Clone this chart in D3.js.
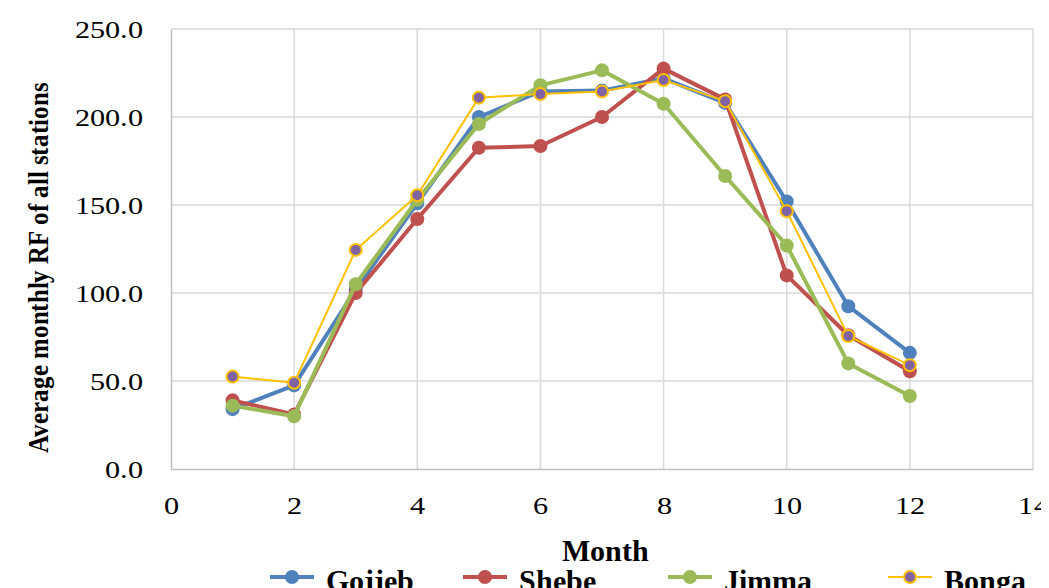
<!DOCTYPE html>
<html>
<head>
<script src="https://d3js.org/d3.v7.min.js"></script>
<style>
@font-face { font-family: "RefSerif"; src: local("Liberation Serif"), local("LiberationSerif"), local("Liberation Serif Regular"), local("LiberationSerif-Regular"); font-weight: normal; }
@font-face { font-family: "RefSerif"; src: local("Liberation Serif Bold"), local("LiberationSerif-Bold"); font-weight: bold; }
</style>
</head>
<body>
<svg id="rf" width="1049" height="588"></svg>
<script>
const months = [1, 2, 3, 4, 5, 6, 7, 8, 9, 10, 11, 12];
const gojjeb = [34, 47.5, 102, 151, 200, 214.5, 215, 222, 208, 152, 92.5, 66];
const shebe = [39, 31, 100, 142, 182.5, 183.5, 200, 227.5, 210, 110, 76, 55.5];
const jimma = [36, 30, 105, 153, 196, 218, 226.5, 207.5, 166.5, 127, 60, 41.5];
const bonga = [52.5, 49, 124.5, 155.5, 211, 213, 214.5, 221, 209, 146.5, 75.5, 59];
const seriesNames = ["Gojjeb", "Shebe", "Jimma", "Bonga"];
const xTicks = [0, 2, 4, 6, 8, 10, 12, 14];
const yTicks = [0, 50, 100, 150, 200, 250];

const width = 1049, height = 588;
const margin = { top: 21, right: 24, bottom: 127, left: 163 };
const FONT = "RefSerif, 'Liberation Serif', 'Times New Roman', serif";

const series = [
  { name: seriesNames[0], values: gojjeb, color: "#4F81BD", width: 4, r: 7, fill: "#4F81BD", stroke: "none" },
  { name: seriesNames[1], values: shebe, color: "#C0504D", width: 4, r: 7, fill: "#C0504D", stroke: "none" },
  { name: seriesNames[2], values: jimma, color: "#9BBB59", width: 4, r: 7, fill: "#9BBB59", stroke: "none" },
  { name: seriesNames[3], values: bonga, color: "#FFC000", width: 2, r: 6, fill: "#8064A2", stroke: "#FFC000" }
];

const svg = d3.select("#rf");

const x = d3.scaleLinear().domain([0, 14]).range([margin.left, width - margin.right]);
const y = d3.scaleLinear().domain([0, 250]).range([height - margin.bottom, margin.top]);

// gridlines
svg.append("g")
  .selectAll("line")
  .data(xTicks.slice(1))
  .join("line")
  .attr("x1", d => x(d)).attr("x2", d => x(d))
  .attr("y1", y(0)).attr("y2", y(250))
  .attr("stroke", "#D9D9D9").attr("stroke-width", 1.5);

svg.append("g")
  .selectAll("line")
  .data(yTicks.slice(1))
  .join("line")
  .attr("x1", x(0)).attr("x2", x(14))
  .attr("y1", d => y(d)).attr("y2", d => y(d))
  .attr("stroke", "#D9D9D9").attr("stroke-width", 1.5);

// axes
const xAxis = svg.append("g")
  .attr("transform", `translate(0,${y(0)})`)
  .call(d3.axisBottom(x).tickValues(xTicks).tickSize(0).tickPadding(28).tickFormat(d3.format("d")));
const yAxis = svg.append("g")
  .attr("transform", `translate(${x(0)},0)`)
  .call(d3.axisLeft(y).tickValues(yTicks).tickSize(0).tickPadding(28).tickFormat(d3.format(".1f")));

[xAxis, yAxis].forEach(a => {
  a.attr("font-family", FONT).attr("font-size", 24);
  a.select(".domain").attr("stroke", "#BFBFBF").attr("stroke-width", 1.5);
  a.selectAll("text").attr("fill", "#000");
});
yAxis.selectAll("text").attr("dy", "0.35em");

// lines and markers
const line = d3.line().x((d, i) => x(months[i])).y(d => y(d));

series.forEach(s => {
  svg.append("path")
    .datum(s.values)
    .attr("d", line)
    .attr("fill", "none")
    .attr("stroke", s.color)
    .attr("stroke-width", s.width)
    .attr("stroke-linejoin", "round");
  svg.append("g")
    .selectAll("circle")
    .data(s.values)
    .join("circle")
    .attr("cx", (d, i) => x(months[i]))
    .attr("cy", d => y(d))
    .attr("r", s.r)
    .attr("fill", s.fill)
    .attr("stroke", s.stroke)
    .attr("stroke-width", 2);
});

// axis titles
svg.append("text")
  .attr("x", 597).attr("y", 553)
  .attr("text-anchor", "middle")
  .attr("font-family", FONT).attr("font-size", 30).attr("font-weight", "bold")
  .text("Month");

svg.append("text")
  .attr("transform", "translate(40,260) rotate(-90)")
  .attr("text-anchor", "middle")
  .attr("font-family", FONT).attr("font-size", 29).attr("font-weight", "bold")
  .attr("textLength", 370).attr("lengthAdjust", "spacingAndGlyphs")
  .text("Average monthly RF of all stations");

// legend
const legendX = [262, 455, 660, 880];
const legend = svg.append("g")
  .selectAll("g")
  .data(series)
  .join("g")
  .attr("transform", (d, i) => `translate(${legendX[i]},569)`);
legend.append("line")
  .attr("x1", 0).attr("x2", 44)
  .attr("stroke", d => d.color).attr("stroke-width", d => d.width);
legend.append("circle")
  .attr("cx", 22).attr("r", d => d.r)
  .attr("fill", d => d.fill).attr("stroke", d => d.stroke).attr("stroke-width", 2);
legend.append("text")
  .attr("x", 56).attr("y", 14)
  .attr("font-family", FONT).attr("font-size", 30).attr("font-weight", "bold")
  .text(d => d.name);

// widen the tick labels once the font is in place
document.fonts.ready.then(() => {
  [xAxis, yAxis].forEach(a => {
    a.selectAll("text")
      .attr("lengthAdjust", "spacingAndGlyphs")
      .attr("textLength", function () { return this.getComputedTextLength() * 1.26; });
  });
});
</script>
</body>
</html>
